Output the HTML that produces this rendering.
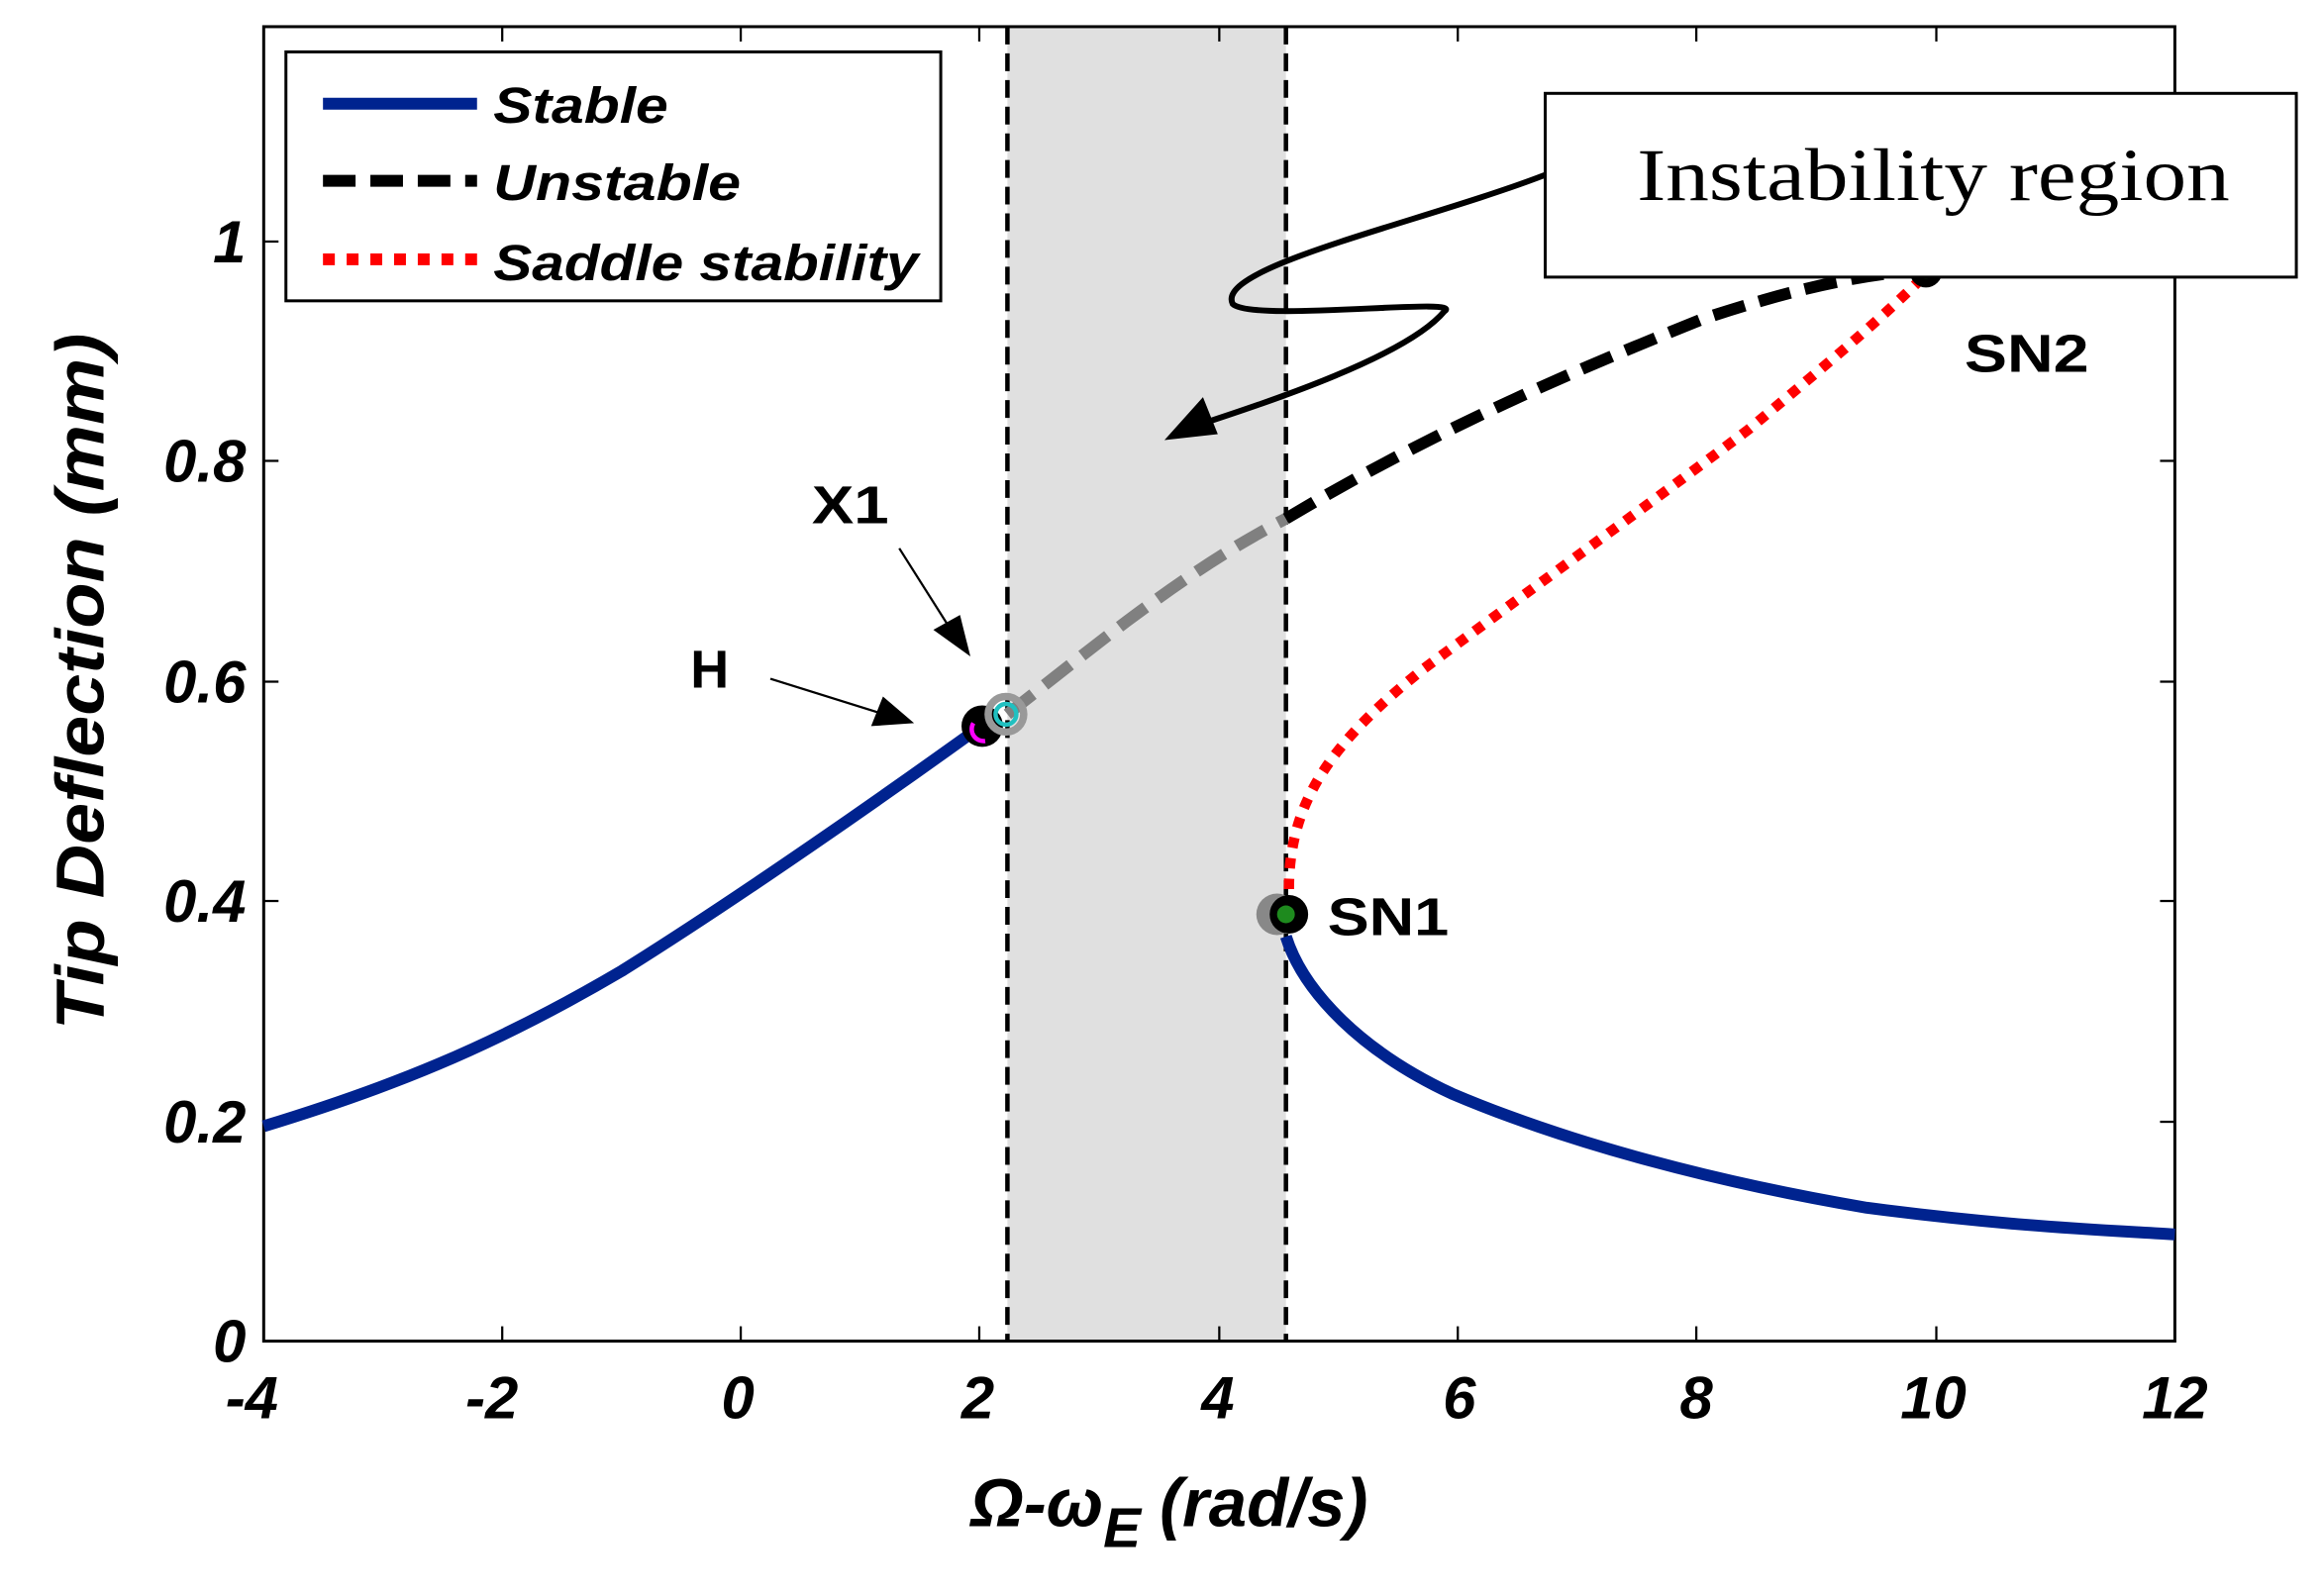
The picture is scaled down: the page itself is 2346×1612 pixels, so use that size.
<!DOCTYPE html>
<html><head><meta charset="utf-8"><style>
html,body{margin:0;padding:0;background:#fff;}
svg{display:block;}
</style></head><body>
<svg width="2346" height="1612" viewBox="0 0 1568 1077" preserveAspectRatio="none" xmlns="http://www.w3.org/2000/svg" font-family="Liberation Sans,Arial,sans-serif">
<rect x="0" y="0" width="1568" height="1077" fill="#fff"/>
<rect x="680" y="19" width="188" height="886" fill="#e0e0e0"/>
<rect x="178" y="18" width="1290" height="887" fill="none" stroke="#000" stroke-width="2"/>
<g stroke="#000" stroke-width="1.5">
<line x1="339" y1="905" x2="339" y2="895"/><line x1="500" y1="905" x2="500" y2="895"/><line x1="661" y1="905" x2="661" y2="895"/><line x1="823" y1="905" x2="823" y2="895"/><line x1="984" y1="905" x2="984" y2="895"/><line x1="1145" y1="905" x2="1145" y2="895"/><line x1="1307" y1="905" x2="1307" y2="895"/>
<line x1="339" y1="18" x2="339" y2="28"/><line x1="500" y1="18" x2="500" y2="28"/><line x1="661" y1="18" x2="661" y2="28"/><line x1="823" y1="18" x2="823" y2="28"/><line x1="984" y1="18" x2="984" y2="28"/><line x1="1145" y1="18" x2="1145" y2="28"/><line x1="1307" y1="18" x2="1307" y2="28"/>
<line x1="178" y1="757" x2="188" y2="757"/><line x1="178" y1="608" x2="188" y2="608"/><line x1="178" y1="460" x2="188" y2="460"/><line x1="178" y1="311" x2="188" y2="311"/><line x1="178" y1="163" x2="188" y2="163"/>
<line x1="1468" y1="757" x2="1458" y2="757"/><line x1="1468" y1="608" x2="1458" y2="608"/><line x1="1468" y1="460" x2="1458" y2="460"/><line x1="1468" y1="311" x2="1458" y2="311"/><line x1="1468" y1="163" x2="1458" y2="163"/>
</g>
<line x1="680" y1="18" x2="680" y2="905" stroke="#000" stroke-width="3" stroke-dasharray="12,6"/>
<line x1="868" y1="18" x2="868" y2="905" stroke="#000" stroke-width="3" stroke-dasharray="12,6"/>
<path d="M178,760 C260,735 330,708 420,655 C500,605 600,535 665,488" fill="none" stroke="#00238f" stroke-width="8"/>
<path d="M868,632 C880,670 920,710 980,738 C1060,772 1160,798 1260,815 C1360,828 1420,830 1468,833" fill="none" stroke="#00238f" stroke-width="8"/>
<path d="M680,482 C740,435 800,385 868,350" fill="none" stroke="#808080" stroke-width="8" stroke-dasharray="22,10"/>
<path d="M868,350 C960,295 1050,255 1150,215 C1220,192 1260,185 1300,182" fill="none" stroke="#000" stroke-width="8" stroke-dasharray="22,10"/>
<path d="M870,600 C870,540 900,500 960,452 C1030,400 1100,350 1180,290 C1240,240 1270,215 1300,185" fill="none" stroke="#ff0000" stroke-width="7" stroke-dasharray="7,7"/>
<circle cx="663" cy="490" r="14" fill="#000"/>
<path d="M657,488 A8,8 0 0 0 665,500" fill="none" stroke="#ff00ff" stroke-width="3"/>
<circle cx="679" cy="482" r="12" fill="none" stroke="#999" stroke-width="5"/>
<circle cx="679" cy="482" r="7" fill="none" stroke="#20c0c0" stroke-width="3"/>
<circle cx="862" cy="617" r="14" fill="#888"/>
<circle cx="870" cy="617" r="13" fill="#000"/>
<circle cx="868" cy="617" r="6" fill="#1e8a1e"/>
<circle cx="1300" cy="183" r="11" fill="#000"/>
<circle cx="1300" cy="183" r="5" fill="#1e8a1e"/>
<rect x="193" y="35" width="442" height="168" fill="#fff" stroke="#000" stroke-width="2"/>
<line x1="218" y1="70" x2="322" y2="70" stroke="#00238f" stroke-width="8"/>
<line x1="218" y1="122" x2="322" y2="122" stroke="#000" stroke-width="8" stroke-dasharray="22,10"/>
<line x1="218" y1="175" x2="322" y2="175" stroke="#ff0000" stroke-width="8" stroke-dasharray="8,8"/>
<g font-weight="bold" font-style="italic" font-size="34">
<text x="333" y="83" textLength="118" lengthAdjust="spacingAndGlyphs">Stable</text>
<text x="333" y="135" textLength="167" lengthAdjust="spacingAndGlyphs">Unstable</text>
<text x="333" y="189" textLength="287" lengthAdjust="spacingAndGlyphs">Saddle stability</text>
</g>
<path d="M1043,118 C960,150 820,180 832,205 C845,218 990,200 975,210 C950,240 860,270 805,288" fill="none" stroke="#000" stroke-width="4"/>
<polygon points="786,297 812,268 822,293" fill="#000"/>
<rect x="1043" y="63" width="507" height="124" fill="#fff" stroke="#000" stroke-width="2"/>
<text x="1105" y="135" font-family="Liberation Serif,serif" font-size="50" textLength="400" lengthAdjust="spacingAndGlyphs">Instability region</text>
<g font-weight="bold" font-size="36">
<text x="548" y="353" textLength="52" lengthAdjust="spacingAndGlyphs">X1</text>
<text x="466" y="464">H</text>
<text x="896" y="631" textLength="82" lengthAdjust="spacingAndGlyphs">SN1</text>
<text x="1326" y="251" textLength="84" lengthAdjust="spacingAndGlyphs">SN2</text>
</g>
<line x1="607" y1="370" x2="645" y2="430" stroke="#000" stroke-width="1.5"/>
<polygon points="655,443 630,425 648,415" fill="#000"/>
<line x1="520" y1="458" x2="600" y2="483" stroke="#000" stroke-width="1.5"/>
<polygon points="617,488 588,490 596,470" fill="#000"/>
<g font-weight="bold" font-style="italic" font-size="40" text-anchor="middle">
<text x="170" y="957">-4</text><text x="332" y="957">-2</text><text x="498" y="957">0</text><text x="660" y="957">2</text><text x="822" y="957">4</text><text x="985" y="957">6</text><text x="1145" y="957">8</text><text x="1305" y="957">10</text><text x="1468" y="957">12</text>
</g>
<g font-weight="bold" font-style="italic" font-size="40" text-anchor="end">
<text x="166" y="919">0</text><text x="166" y="771">0.2</text><text x="166" y="622">0.4</text><text x="166" y="474">0.6</text><text x="166" y="325">0.8</text><text x="166" y="177">1</text>
</g>
<text x="0" y="0" transform="translate(70,460) rotate(-90)" text-anchor="middle" font-weight="bold" font-style="italic" font-size="46" textLength="470" lengthAdjust="spacingAndGlyphs">Tip Deflection (mm)</text>
<text x="655" y="1030" font-weight="bold" font-style="italic" font-size="46">Ω-ω<tspan font-size="38" dy="14">E</tspan><tspan dy="-14"> (rad/s)</tspan></text>
</svg>
</body></html>
